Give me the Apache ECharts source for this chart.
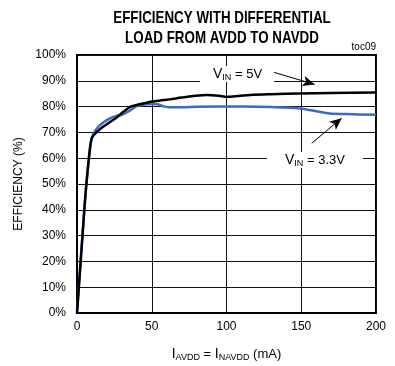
<!DOCTYPE html>
<html>
<head>
<meta charset="utf-8">
<script src="https://cdn.jsdelivr.net/npm/echarts@6/dist/echarts.min.js"></script>
<style>
  html, body { margin: 0; padding: 0; background: #fff; }
  #efficiency-chart { width: 395px; height: 366px; }
</style>
</head>
<body>
<div id="efficiency-chart"></div>
<script>
// load current (mA) vs efficiency (%)
const vin5Current = [0, 2, 5.4, 6.5, 8.5, 10, 13, 17, 22, 27, 31, 36, 41, 48, 55, 62, 70, 78, 87, 95, 100, 108, 116, 130, 149, 170, 200]
const vin5Eff = [0, 16, 44, 51.5, 63, 68, 70, 72, 74, 76, 78, 80, 80.8, 81.7, 82.3, 82.8, 83.5, 84.1, 84.5, 84.2, 83.8, 84.1, 84.5, 84.8, 85.1, 85.3, 85.5]

const vin33Current = [0, 5, 9, 11, 14, 18, 22, 26, 30, 35, 40, 45, 50, 54, 58, 62, 70, 80, 95, 110, 130, 149, 160, 169, 180, 200]
const vin33Eff = [0, 41, 65, 69.5, 72, 74, 75.4, 76.3, 76.8, 78.3, 80.2, 80.8, 81, 80.9, 80.1, 79.7, 79.7, 79.9, 80, 80, 79.8, 79.3, 78.2, 77.3, 77.1, 76.8]

const xTicks = [0, 50, 100, 150, 200]
const yTicks = [0, 10, 20, 30, 40, 50, 60, 70, 80, 90, 100]

const pairs = (xs, ys) => xs.map((x, i) => [x, ys[i]])

const fontFamily = 'Arial, "Liberation Sans", sans-serif'

const efficiency_chart = echarts.init(document.querySelector('#efficiency-chart'))

const efficiency_chart_option = {
  animation: false,
  backgroundColor: '#fff',
  textStyle: { fontFamily: fontFamily, color: '#000' },
  grid: {
    left: 77,
    right: 19,
    top: 55,
    bottom: 53,
    outerBoundsMode: 'none',
    containLabel: false,
    show: true,
    borderColor: '#000',
    borderWidth: 2
  },
  xAxis: {
    type: 'value',
    min: xTicks[0],
    max: xTicks[xTicks.length - 1],
    interval: 50,
    axisLine: { show: true, lineStyle: { color: '#000', width: 2 } },
    axisTick: { show: false },
    axisLabel: { color: '#000', fontSize: 12, margin: 8 },
    splitLine: { show: true, lineStyle: { color: '#111', width: 1 } },
    name: '{i|I}{s|AVDD}{t| = }{i|I}{s|NAVDD}{t| (mA)}',
    nameLocation: 'middle',
    nameGap: 33,
    nameTextStyle: {
      rich: {
        i: { fontSize: 14, color: '#000' },
        t: { fontSize: 13, color: '#000' },
        s: { fontSize: 9, color: '#000', padding: [7, 0, 0, 0] }
      }
    }
  },
  yAxis: {
    type: 'value',
    min: yTicks[0],
    max: yTicks[yTicks.length - 1],
    interval: 10,
    axisLine: { show: true, lineStyle: { color: '#000', width: 2 } },
    axisTick: { show: false },
    axisLabel: { color: '#000', fontSize: 12, margin: 11, formatter: '{value}%' },
    splitLine: { show: true, lineStyle: { color: '#111', width: 1 } },
    name: 'EFFICIENCY (%)',
    nameLocation: 'middle',
    nameGap: 52,
    nameTextStyle: { fontSize: 12, color: '#000' }
  },
  graphic: [
    {
      // condensed bold title: no narrow font installed, so squeeze Arial
      type: 'text',
      x: 222,
      y: 8,
      scaleX: 0.81,
      style: {
        text: 'EFFICIENCY WITH DIFFERENTIAL\nLOAD FROM AVDD TO NAVDD',
        textAlign: 'center',
        fontSize: 16.5,
        fontWeight: 'bold',
        lineHeight: 20,
        fill: '#000',
        fontFamily: fontFamily
      }
    },
    {
      type: 'text',
      right: 19,
      top: 42,
      style: { text: 'toc09', fontSize: 10, fill: '#000', fontFamily: fontFamily }
    },
    {
      type: 'text',
      left: 200,
      top: 66,
      z: 50,
      style: {
        text: '{v|V}{s|IN}{t| = 5V}',
        backgroundColor: '#fff',
        padding: [0, 12, 0, 13],
        rich: {
          v: { fontSize: 14, fill: '#000', fontFamily: fontFamily },
          t: { fontSize: 13, fill: '#000', fontFamily: fontFamily },
          s: { fontSize: 9, fill: '#000', fontFamily: fontFamily, padding: [7, 0, 0, 0] }
        }
      }
    },
    {
      type: 'text',
      left: 267,
      top: 152,
      z: 50,
      style: {
        text: '{v|V}{s|IN}{t| = 3.3V}',
        backgroundColor: '#fff',
        padding: [0, 18, 0, 18],
        rich: {
          v: { fontSize: 14, fill: '#000', fontFamily: fontFamily },
          t: { fontSize: 13, fill: '#000', fontFamily: fontFamily },
          s: { fontSize: 9, fill: '#000', fontFamily: fontFamily, padding: [7, 0, 0, 0] }
        }
      }
    }
  ],
  series: [
    {
      name: 'VIN = 3.3V',
      type: 'line',
      data: pairs(vin33Current, vin33Eff),
      smooth: 0.3,
      symbol: 'none',
      z: 3,
      lineStyle: { color: '#3a6cc6', width: 2.5 },
      markLine: {
        silent: true,
        symbol: ['none', 'arrow'],
        symbolSize: [8, 12],
        label: { show: false },
        lineStyle: { color: '#000', width: 1, type: 'solid' },
        data: [[{ coord: [157, 65.8] }, { coord: [177, 75.5] }]]
      }
    },
    {
      name: 'VIN = 5V',
      type: 'line',
      data: pairs(vin5Current, vin5Eff),
      smooth: 0.3,
      symbol: 'none',
      z: 4,
      lineStyle: { color: '#000', width: 2.5 },
      markLine: {
        silent: true,
        symbol: ['none', 'arrow'],
        symbolSize: [8, 12],
        label: { show: false },
        lineStyle: { color: '#000', width: 1, type: 'solid' },
        data: [[{ coord: [131, 93.4] }, { coord: [159, 88.6] }]]
      }
    }
  ]
}

efficiency_chart.setOption(efficiency_chart_option)
</script>
</body>
</html>
